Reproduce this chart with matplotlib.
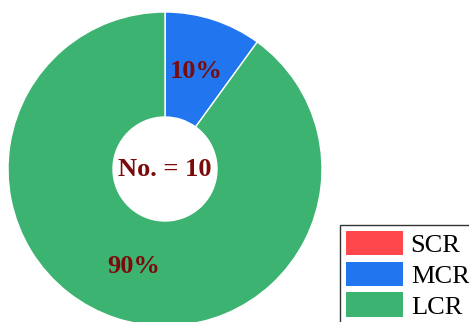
import matplotlib
matplotlib.use("Agg")
import matplotlib.pyplot as plt
from matplotlib.patches import Patch
import numpy as np

categories = ["SCR", "MCR", "LCR"]
values = [0, 10, 90]
colors = ["#FF474C", "#2176F0", "#3CB371"]
pct_labels = ["", "10%", "90%"]
center_text = "No. = 10"

W, H = 469, 322
fig = plt.figure(figsize=(W / 100, H / 100), dpi=100)
ax = fig.add_axes([0, 0, 1, 1])

cx, cy, R = 165, H - 169, 157
hole = 52

ax.pie(values, colors=colors, startangle=90, counterclock=False,
       center=(cx, cy), radius=R, frame=True,
       wedgeprops=dict(width=R - hole, edgecolor="white", linewidth=1))
ax.set_xlim(0, W)
ax.set_ylim(0, H)
ax.set_aspect("equal")
ax.axis("off")

total = sum(values)
start = 90.0
rlab = 102
for v, lab in zip(values, pct_labels):
    ang = start - 360 * v / total / 2
    start -= 360 * v / total
    if lab:
        a = np.deg2rad(ang)
        ax.text(cx + rlab * np.cos(a), cy + rlab * np.sin(a), lab,
                ha="center", va="center", fontsize=19, fontweight="bold",
                color="#7B0A0A", family="Liberation Serif")

ax.text(cx, cy, center_text, ha="center", va="center", fontsize=19,
        fontweight="bold", color="#7B0A0A", family="Liberation Serif")

handles = [Patch(facecolor=c, edgecolor="none") for c in colors]
leg = fig.legend(handles, categories, loc="upper left",
                 bbox_to_anchor=(340 / W, 1 - 225 / H),
                 prop=dict(family="Liberation Serif", size=19),
                 frameon=True, fancybox=False, edgecolor="black",
                 handlelength=2.16, handleheight=1.06, labelspacing=0.17,
                 handletextpad=0.3, borderpad=0.22, borderaxespad=0)
leg.get_frame().set_linewidth(1)

fig.savefig("out.png", dpi=100)
